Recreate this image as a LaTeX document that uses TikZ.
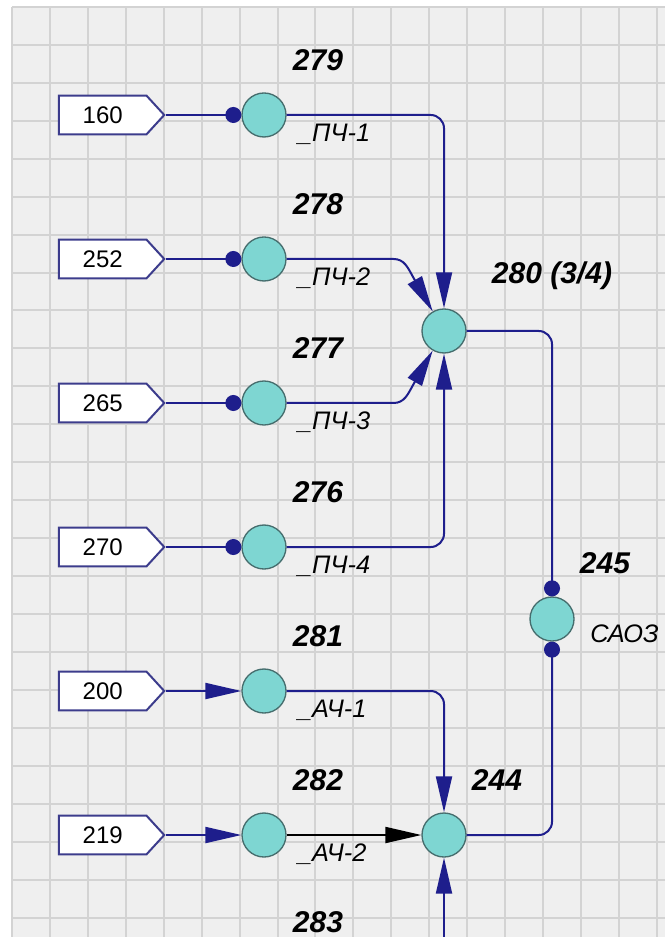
\documentclass[tikz,border=0pt]{standalone}
\usepackage{fontspec}
\setmainfont{Liberation Sans}
\usetikzlibrary{arrows.meta,shapes.symbols}

\definecolor{navy}{RGB}{30,30,140}
\definecolor{boxline}{RGB}{60,60,140}
\definecolor{pumpfill}{RGB}{126,214,210}
\definecolor{pumpline}{RGB}{70,110,110}
\definecolor{gridbg}{RGB}{239,239,239}
\definecolor{gridline}{RGB}{211,211,211}

\begin{document}
\begin{tikzpicture}[x=27pt,y=27pt,
  pump/.style={circle,draw=pumpline,line width=1pt,fill=pumpfill,minimum size=33pt,inner sep=0pt},
  inbox/.style={signal,signal to=east,signal pointer angle=95,draw=boxline,line width=1.5pt,fill=white,
    minimum width=79pt,minimum height=29pt,inner sep=0pt,font=\fontsize{18}{20}\selectfont},
  num/.style={font=\fontsize{22.5}{25}\selectfont\bfseries\itshape},
  tag/.style={anchor=west,inner sep=0pt,font=\fontsize{19}{21}\selectfont\itshape},
  flow/.style={draw=navy,line width=1.5pt,rounded corners=10pt},
  tip/.style={-{Triangle[length=27pt,width=12pt]}},
  dot/.style={-{Circle[length=12pt]}}]

\useasboundingbox (-0.333,0.194) rectangle (18.139,-25.833);
\fill[white] (-0.333,0.194) rectangle (18.139,-25.833);

% Grid
\fill[gridbg] (0,0) rectangle (18.139,-25.833);
\draw[gridline,line width=1.5pt] (0,-25.833) grid (18.139,0);

% --- Pumps ---
\node[pump] (c279) at (7,-3) {};
\node[pump] (c278) at (7,-7) {};
\node[pump] (c277) at (7,-11) {};
\node[pump] (c276) at (7,-15) {};
\node[pump] (c281) at (7,-19) {};
\node[pump] (c282) at (7,-23) {};
\node[pump] (c280) at (12,-9) {};
\node[pump] (c245) at (15,-17) {};
\node[pump] (c244) at (12,-23) {};

% --- Inputs ---
\node[inbox] (b160) at (2.52,-3) {160};
\node[inbox] (b252) at (2.52,-7) {252};
\node[inbox] (b265) at (2.52,-11) {265};
\node[inbox] (b270) at (2.52,-15) {270};
\node[inbox] (b200) at (2.52,-19) {200};
\node[inbox] (b219) at (2.52,-23) {219};

% --- Labels ---
\node[num] (l279) at (8.5,-1.47) {279};
\node[num] (l278) at (8.5,-5.47) {278};
\node[num] (l277) at (8.5,-9.47) {277};
\node[num] (l276) at (8.5,-13.47) {276};
\node[num] (l281) at (8.5,-17.47) {281};
\node[num] (l282) at (8.5,-21.47) {282};
\node[num] (l283) at (8.5,-25.42) {283};
\node[num] (l280) at (15,-7.47) {280 (3/4)};
\node[num] (l245) at (16.47,-15.44) {245};
\node[num] (l244) at (13.47,-21.47) {244};

\node[tag] (t279) at (7.94,-3.54) {\_ПЧ-1};
\node[tag] (t278) at (7.94,-7.54) {\_ПЧ-2};
\node[tag] (t277) at (7.94,-11.54) {\_ПЧ-3};
\node[tag] (t276) at (7.94,-15.54) {\_ПЧ-4};
\node[tag] (t281) at (7.94,-19.54) {\_АЧ-1};
\node[tag] (t282) at (7.94,-23.54) {\_АЧ-2};
\node[tag] (t245) at (16.06,-17.42) {САОЗ};

% --- Inputs to pumps ---
\draw[flow,dot,navy] (b160.east) -- (c279.west);
\draw[flow,dot,navy] (b252.east) -- (c278.west);
\draw[flow,dot,navy] (b265.east) -- (c277.west);
\draw[flow,dot,navy] (b270.east) -- (c276.west);
\draw[flow,tip,navy] (b200.east) -- (c281.west);
\draw[flow,tip,navy] (b219.east) -- (c282.west);

% --- Into 280 ---
\draw[flow,tip,navy] (c279.east) -| (c280.north);
\draw[flow,tip,navy,sharp corners] (c278.east) -- (10.6,-7) .. controls (10.9,-7) and (11.0,-7.25) .. (11.14,-7.5) -- (c280.120);
\draw[flow,tip,navy,sharp corners] (c277.east) -- (10.6,-11) .. controls (10.9,-11) and (11.0,-10.75) .. (11.14,-10.5) -- (c280.240);
\draw[flow,tip,navy] (c276.east) -| (c280.south);

% --- 280 -> 245 -> 244 ---
\draw[flow,dot,navy] (c280.east) -| (c245.north);
\draw[flow,dot,navy,{Circle[length=12pt]}-] (c245.south) |- (c244.east);

% --- Into 244 ---
\draw[flow,tip,navy] (c281.east) -| (c244.north);
\draw[flow,tip,draw=black,black] (c282.east) -- (c244.west);
\coordinate (e283) at (12,-26);
\draw[flow,tip,navy] (e283) -- (c244.south);

\end{tikzpicture}
\end{document}
